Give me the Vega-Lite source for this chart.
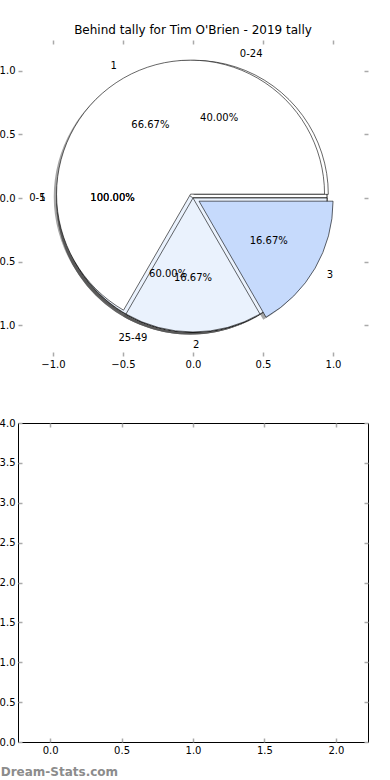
{
  "$schema": "https://vega.github.io/schema/vega-lite/v6.json",
  "autosize": {"type": "pad"},
  "padding": {"left": -10, "top": 24, "right": 20, "bottom": 0},
  "background": "white",
  "config": {
    "view": {"stroke": null},
    "font": "DejaVu Sans",
    "axis": {"domain": false, "grid": false, "title": null, "labelFont": "DejaVu Sans", "labelFontSize": 10, "labelColor": "#000000", "tickColor": "#aaaaaa", "tickWidth": 1.5, "tickSize": -4, "labelPadding": 7, "labelFlush": false, "labelOverlap": false},
    "title": {"font": "DejaVu Sans", "fontSize": 12, "fontWeight": "normal", "color": "#000000", "offset": 2},
    "text": {"font": "DejaVu Sans", "fontSize": 10, "color": "#000000"}
  },
  "title": {"text": "Dream-Stats.com", "orient": "bottom", "anchor": "start", "dx": 10, "offset": 11, "fontSize": 12, "fontWeight": "bold", "color": "#8c8c8c"},
  "datasets": {
    "pies": [
      {"pie": "A", "label": "0-5", "share": 1, "order": 1},
      {"pie": "A2", "label": "1", "share": 1, "order": 1},
      {"pie": "B", "label": "0-24", "share": 0.4, "order": 1},
      {"pie": "B", "label": "25-49", "share": 0.6, "order": 2},
      {"pie": "C", "label": "1", "share": 0.6667, "order": 1},
      {"pie": "C", "label": "2", "share": 0.1667, "order": 2},
      {"pie": "C", "label": "3", "share": 0.1667, "order": 3}
    ]
  },
  "bounds": "flush",
  "spacing": 67,
  "vconcat": [
    {
      "width": 350,
      "height": 316,
      "title": {"text": "Behind tally for Tim O'Brien - 2019 tally"},
      "data": {"name": "pies"},
      "resolve": {"axis": {"x": "independent", "y": "independent"}},
      "layer": [
        {"mark": {"type": "point", "opacity": 0}, "encoding": {
          "x": {"datum": 0, "type": "quantitative", "scale": {"domain": [-1.25, 1.25], "nice": false, "zero": false}, "axis": {"orient": "bottom", "values": [-1, -0.5, 0, 0.5, 1], "format": ".1f"}},
          "y": {"datum": 0, "type": "quantitative", "scale": {"domain": [-1.24, 1.24], "nice": false, "zero": false}, "axis": {"orient": "left", "values": [-1, -0.5, 0, 0.5, 1], "format": ".1f"}}}},
        {"mark": {"type": "point", "opacity": 0}, "encoding": {
          "x": {"datum": 0, "type": "quantitative", "axis": {"orient": "top", "values": [-1, -0.5, 0, 0.5, 1], "labels": false}},
          "y": {"datum": 0, "type": "quantitative", "axis": {"orient": "right", "values": [-1, -0.5, 0, 0.5, 1], "labels": false}}}},

        {"transform": [{"filter": "datum.pie === 'A'"}], "mark": {"type": "arc", "radius": 134, "fill": "#4d4d4d", "opacity": 0.5}, "encoding": {
          "theta": {"field": "share", "type": "quantitative", "stack": "normalize", "scale": {"domain": [0, 1], "range": [1.5707963, -4.712389]}},
          "order": {"field": "order", "type": "quantitative"},
          "x": {"datum": -0.02, "type": "quantitative", "axis": null}, "y": {"datum": -0.02, "type": "quantitative", "axis": null}}},
        {"transform": [{"filter": "datum.pie === 'A2'"}], "mark": {"type": "arc", "radius": 134, "fill": "#4d4d4d", "opacity": 0.5}, "encoding": {
          "theta": {"field": "share", "type": "quantitative", "stack": "normalize"},
          "order": {"field": "order", "type": "quantitative"},
          "x": {"datum": -0.02, "type": "quantitative", "axis": null}, "y": {"datum": -0.02, "type": "quantitative", "axis": null}}},
        {"transform": [{"filter": "datum.pie === 'B'"}], "mark": {"type": "arc", "radius": 134, "fill": "#4d4d4d"}, "encoding": {
          "theta": {"field": "share", "type": "quantitative", "stack": "normalize"},
          "order": {"field": "order", "type": "quantitative"},
          "x": {"datum": -0.0107, "type": "quantitative", "axis": null}, "y": {"datum": 0.0085, "type": "quantitative", "axis": null},
          "opacity": {"condition": {"test": "datum.label === '0-24'", "value": 0.5}, "value": 0}}},
        {"transform": [{"filter": "datum.pie === 'B'"}], "mark": {"type": "arc", "radius": 134, "fill": "#4d4d4d"}, "encoding": {
          "theta": {"field": "share", "type": "quantitative", "stack": "normalize"},
          "order": {"field": "order", "type": "quantitative"},
          "x": {"datum": -0.02, "type": "quantitative", "axis": null}, "y": {"datum": -0.02, "type": "quantitative", "axis": null},
          "opacity": {"condition": {"test": "datum.label === '25-49'", "value": 0.5}, "value": 0}}},
        {"transform": [{"filter": "datum.pie === 'C'"}], "mark": {"type": "arc", "radius": 134, "fill": "#4d4d4d"}, "encoding": {
          "theta": {"field": "share", "type": "quantitative", "stack": "normalize"},
          "order": {"field": "order", "type": "quantitative"},
          "x": {"datum": -0.0375, "type": "quantitative", "axis": null}, "y": {"datum": 0.0103, "type": "quantitative", "axis": null},
          "opacity": {"condition": {"test": "datum.label === '1'", "value": 0.5}, "value": 0}}},
        {"transform": [{"filter": "datum.pie === 'C'"}], "mark": {"type": "arc", "radius": 134, "fill": "#4d4d4d"}, "encoding": {
          "theta": {"field": "share", "type": "quantitative", "stack": "normalize"},
          "order": {"field": "order", "type": "quantitative"},
          "x": {"datum": -0.02, "type": "quantitative", "axis": null}, "y": {"datum": -0.02, "type": "quantitative", "axis": null},
          "opacity": {"condition": {"test": "datum.label === '2'", "value": 0.5}, "value": 0}}},
        {"transform": [{"filter": "datum.pie === 'C'"}], "mark": {"type": "arc", "radius": 134, "fill": "#4d4d4d"}, "encoding": {
          "theta": {"field": "share", "type": "quantitative", "stack": "normalize"},
          "order": {"field": "order", "type": "quantitative"},
          "x": {"datum": 0.0233, "type": "quantitative", "axis": null}, "y": {"datum": -0.045, "type": "quantitative", "axis": null},
          "opacity": {"condition": {"test": "datum.label === '3'", "value": 0.5}, "value": 0}}},

        {"transform": [{"filter": "datum.pie === 'A'"}], "mark": {"type": "arc", "radius": 134, "stroke": "#000000", "strokeWidth": 0.6}, "encoding": {
          "theta": {"field": "share", "type": "quantitative", "stack": "normalize"},
          "order": {"field": "order", "type": "quantitative"},
          "color": {"field": "label", "type": "nominal", "legend": null, "scale": {"domain": ["0-5", "0-24", "25-49", "1", "2", "3"], "range": ["#ffffff", "#ffffff", "#eaf2fd", "#ffffff", "#eaf2fd", "#c6dafc"]}}}},
        {"transform": [{"filter": "datum.pie === 'A2'"}], "mark": {"type": "arc", "radius": 134, "stroke": "#000000", "strokeWidth": 0.6}, "encoding": {
          "theta": {"field": "share", "type": "quantitative", "stack": "normalize"},
          "order": {"field": "order", "type": "quantitative"},
          "color": {"field": "label", "type": "nominal", "legend": null}}},
        {"transform": [{"filter": "datum.pie === 'B'"}], "mark": {"type": "arc", "radius": 134, "stroke": "#000000", "strokeWidth": 0.6}, "encoding": {
          "theta": {"field": "share", "type": "quantitative", "stack": "normalize"},
          "order": {"field": "order", "type": "quantitative"},
          "color": {"field": "label", "type": "nominal", "legend": null},
          "x": {"datum": 0.0093, "type": "quantitative", "axis": null}, "y": {"datum": 0.0285, "type": "quantitative", "axis": null},
          "opacity": {"condition": {"test": "datum.label === '0-24'", "value": 1}, "value": 0}}},
        {"transform": [{"filter": "datum.pie === 'B'"}], "mark": {"type": "arc", "radius": 134, "stroke": "#000000", "strokeWidth": 0.6}, "encoding": {
          "theta": {"field": "share", "type": "quantitative", "stack": "normalize"},
          "order": {"field": "order", "type": "quantitative"},
          "color": {"field": "label", "type": "nominal", "legend": null},
          "opacity": {"condition": {"test": "datum.label === '25-49'", "value": 1}, "value": 0}}},
        {"transform": [{"filter": "datum.pie === 'C'"}], "mark": {"type": "arc", "radius": 134, "stroke": "#000000", "strokeWidth": 0.6}, "encoding": {
          "theta": {"field": "share", "type": "quantitative", "stack": "normalize"},
          "order": {"field": "order", "type": "quantitative"},
          "color": {"field": "label", "type": "nominal", "legend": null},
          "x": {"datum": -0.0175, "type": "quantitative", "axis": null}, "y": {"datum": 0.0303, "type": "quantitative", "axis": null},
          "opacity": {"condition": {"test": "datum.label === '1'", "value": 1}, "value": 0}}},
        {"transform": [{"filter": "datum.pie === 'C'"}], "mark": {"type": "arc", "radius": 134, "stroke": "#000000", "strokeWidth": 0.6}, "encoding": {
          "theta": {"field": "share", "type": "quantitative", "stack": "normalize"},
          "order": {"field": "order", "type": "quantitative"},
          "color": {"field": "label", "type": "nominal", "legend": null},
          "opacity": {"condition": {"test": "datum.label === '2'", "value": 1}, "value": 0}}},
        {"transform": [{"filter": "datum.pie === 'C'"}], "mark": {"type": "arc", "radius": 134, "stroke": "#000000", "strokeWidth": 0.6}, "encoding": {
          "theta": {"field": "share", "type": "quantitative", "stack": "normalize"},
          "order": {"field": "order", "type": "quantitative"},
          "color": {"field": "label", "type": "nominal", "legend": null},
          "x": {"datum": 0.0433, "type": "quantitative", "axis": null}, "y": {"datum": -0.025, "type": "quantitative", "axis": null},
          "opacity": {"condition": {"test": "datum.label === '3'", "value": 1}, "value": 0}}},

        {"transform": [{"filter": "datum.pie === 'A'"}], "mark": {"type": "text", "radius": 147.4, "baseline": "middle", "align": {"expr": "cos(PI * (datum.share_start + datum.share_end)) > -0.001 ? 'left' : 'right'"}}, "encoding": {
          "theta": {"field": "share", "type": "quantitative", "stack": "normalize"},
          "order": {"field": "order", "type": "quantitative"},
          "text": {"field": "label", "type": "nominal"}}},
        {"transform": [{"filter": "datum.pie === 'A2'"}], "mark": {"type": "text", "radius": 147.4, "baseline": "middle", "align": {"expr": "cos(PI * (datum.share_start + datum.share_end)) > -0.001 ? 'left' : 'right'"}}, "encoding": {
          "theta": {"field": "share", "type": "quantitative", "stack": "normalize"},
          "order": {"field": "order", "type": "quantitative"},
          "text": {"field": "label", "type": "nominal"}}},
        {"transform": [{"filter": "datum.pie === 'B'"}], "mark": {"type": "text", "radius": 147.4, "baseline": "middle", "align": {"expr": "cos(PI * (datum.share_start + datum.share_end)) > -0.001 ? 'left' : 'right'"}}, "encoding": {
          "theta": {"field": "share", "type": "quantitative", "stack": "normalize"},
          "order": {"field": "order", "type": "quantitative"},
          "text": {"field": "label", "type": "nominal"},
          "x": {"datum": 0.0093, "type": "quantitative", "axis": null}, "y": {"datum": 0.0285, "type": "quantitative", "axis": null},
          "opacity": {"condition": {"test": "datum.label === '0-24'", "value": 1}, "value": 0}}},
        {"transform": [{"filter": "datum.pie === 'B'"}], "mark": {"type": "text", "radius": 147.4, "baseline": "middle", "align": {"expr": "cos(PI * (datum.share_start + datum.share_end)) > -0.001 ? 'left' : 'right'"}}, "encoding": {
          "theta": {"field": "share", "type": "quantitative", "stack": "normalize"},
          "order": {"field": "order", "type": "quantitative"},
          "text": {"field": "label", "type": "nominal"},
          "opacity": {"condition": {"test": "datum.label === '25-49'", "value": 1}, "value": 0}}},
        {"transform": [{"filter": "datum.pie === 'C'"}], "mark": {"type": "text", "radius": 147.4, "baseline": "middle", "align": {"expr": "cos(PI * (datum.share_start + datum.share_end)) > -0.001 ? 'left' : 'right'"}}, "encoding": {
          "theta": {"field": "share", "type": "quantitative", "stack": "normalize"},
          "order": {"field": "order", "type": "quantitative"},
          "text": {"field": "label", "type": "nominal"},
          "x": {"datum": -0.0175, "type": "quantitative", "axis": null}, "y": {"datum": 0.0303, "type": "quantitative", "axis": null},
          "opacity": {"condition": {"test": "datum.label === '1'", "value": 1}, "value": 0}}},
        {"transform": [{"filter": "datum.pie === 'C'"}], "mark": {"type": "text", "radius": 147.4, "baseline": "middle", "align": {"expr": "cos(PI * (datum.share_start + datum.share_end)) > -0.001 ? 'left' : 'right'"}}, "encoding": {
          "theta": {"field": "share", "type": "quantitative", "stack": "normalize"},
          "order": {"field": "order", "type": "quantitative"},
          "text": {"field": "label", "type": "nominal"},
          "opacity": {"condition": {"test": "datum.label === '2'", "value": 1}, "value": 0}}},
        {"transform": [{"filter": "datum.pie === 'C'"}], "mark": {"type": "text", "radius": 147.4, "baseline": "middle", "align": {"expr": "cos(PI * (datum.share_start + datum.share_end)) > -0.001 ? 'left' : 'right'"}}, "encoding": {
          "theta": {"field": "share", "type": "quantitative", "stack": "normalize"},
          "order": {"field": "order", "type": "quantitative"},
          "text": {"field": "label", "type": "nominal"},
          "x": {"datum": 0.0433, "type": "quantitative", "axis": null}, "y": {"datum": -0.025, "type": "quantitative", "axis": null},
          "opacity": {"condition": {"test": "datum.label === '3'", "value": 1}, "value": 0}}},

        {"transform": [{"filter": "datum.pie === 'A'"}], "mark": {"type": "text", "radius": 80.4, "baseline": "middle", "align": "center"}, "encoding": {
          "theta": {"field": "share", "type": "quantitative", "stack": "normalize"},
          "order": {"field": "order", "type": "quantitative"},
          "text": {"field": "share", "type": "quantitative", "format": ".2%"}}},
        {"transform": [{"filter": "datum.pie === 'A2'"}], "mark": {"type": "text", "radius": 80.4, "baseline": "middle", "align": "center"}, "encoding": {
          "theta": {"field": "share", "type": "quantitative", "stack": "normalize"},
          "order": {"field": "order", "type": "quantitative"},
          "text": {"field": "share", "type": "quantitative", "format": ".2%"}}},
        {"transform": [{"filter": "datum.pie === 'B'"}], "mark": {"type": "text", "radius": 80.4, "baseline": "middle", "align": "center"}, "encoding": {
          "theta": {"field": "share", "type": "quantitative", "stack": "normalize"},
          "order": {"field": "order", "type": "quantitative"},
          "text": {"field": "share", "type": "quantitative", "format": ".2%"},
          "x": {"datum": 0.0093, "type": "quantitative", "axis": null}, "y": {"datum": 0.0285, "type": "quantitative", "axis": null},
          "opacity": {"condition": {"test": "datum.label === '0-24'", "value": 1}, "value": 0}}},
        {"transform": [{"filter": "datum.pie === 'B'"}], "mark": {"type": "text", "radius": 80.4, "baseline": "middle", "align": "center"}, "encoding": {
          "theta": {"field": "share", "type": "quantitative", "stack": "normalize"},
          "order": {"field": "order", "type": "quantitative"},
          "text": {"field": "share", "type": "quantitative", "format": ".2%"},
          "opacity": {"condition": {"test": "datum.label === '25-49'", "value": 1}, "value": 0}}},
        {"transform": [{"filter": "datum.pie === 'C'"}], "mark": {"type": "text", "radius": 80.4, "baseline": "middle", "align": "center"}, "encoding": {
          "theta": {"field": "share", "type": "quantitative", "stack": "normalize"},
          "order": {"field": "order", "type": "quantitative"},
          "text": {"field": "share", "type": "quantitative", "format": ".2%"},
          "x": {"datum": -0.0175, "type": "quantitative", "axis": null}, "y": {"datum": 0.0303, "type": "quantitative", "axis": null},
          "opacity": {"condition": {"test": "datum.label === '1'", "value": 1}, "value": 0}}},
        {"transform": [{"filter": "datum.pie === 'C'"}], "mark": {"type": "text", "radius": 80.4, "baseline": "middle", "align": "center"}, "encoding": {
          "theta": {"field": "share", "type": "quantitative", "stack": "normalize"},
          "order": {"field": "order", "type": "quantitative"},
          "text": {"field": "share", "type": "quantitative", "format": ".2%"},
          "opacity": {"condition": {"test": "datum.label === '2'", "value": 1}, "value": 0}}},
        {"transform": [{"filter": "datum.pie === 'C'"}], "mark": {"type": "text", "radius": 80.4, "baseline": "middle", "align": "center"}, "encoding": {
          "theta": {"field": "share", "type": "quantitative", "stack": "normalize"},
          "order": {"field": "order", "type": "quantitative"},
          "text": {"field": "share", "type": "quantitative", "format": ".2%"},
          "x": {"datum": 0.0433, "type": "quantitative", "axis": null}, "y": {"datum": -0.025, "type": "quantitative", "axis": null},
          "opacity": {"condition": {"test": "datum.label === '3'", "value": 1}, "value": 0}}}
      ]
    },
    {
      "width": 350,
      "height": 319,
      "view": {"stroke": "#000000", "strokeWidth": 1},
      "data": {"values": [{"placeholder": 0}]},
      "resolve": {"axis": {"x": "independent", "y": "independent"}},
      "layer": [
        {"mark": {"type": "point", "opacity": 0}, "encoding": {
          "x": {"datum": 0, "type": "quantitative", "scale": {"domain": [-0.225, 2.225], "nice": false, "zero": false}, "axis": {"orient": "bottom", "values": [0, 0.5, 1, 1.5, 2], "format": ".1f"}},
          "y": {"datum": 0, "type": "quantitative", "scale": {"domain": [0, 4], "nice": false, "zero": false}, "axis": {"orient": "left", "values": [0, 0.5, 1, 1.5, 2, 2.5, 3, 3.5, 4], "format": ".1f"}}}},
        {"mark": {"type": "point", "opacity": 0}, "encoding": {
          "x": {"datum": 0, "type": "quantitative", "axis": {"orient": "top", "values": [0, 0.5, 1, 1.5, 2], "labels": false}},
          "y": {"datum": 0, "type": "quantitative", "axis": {"orient": "right", "values": [0, 0.5, 1, 1.5, 2, 2.5, 3, 3.5, 4], "labels": false}}}}
      ]
    }
  ]
}
